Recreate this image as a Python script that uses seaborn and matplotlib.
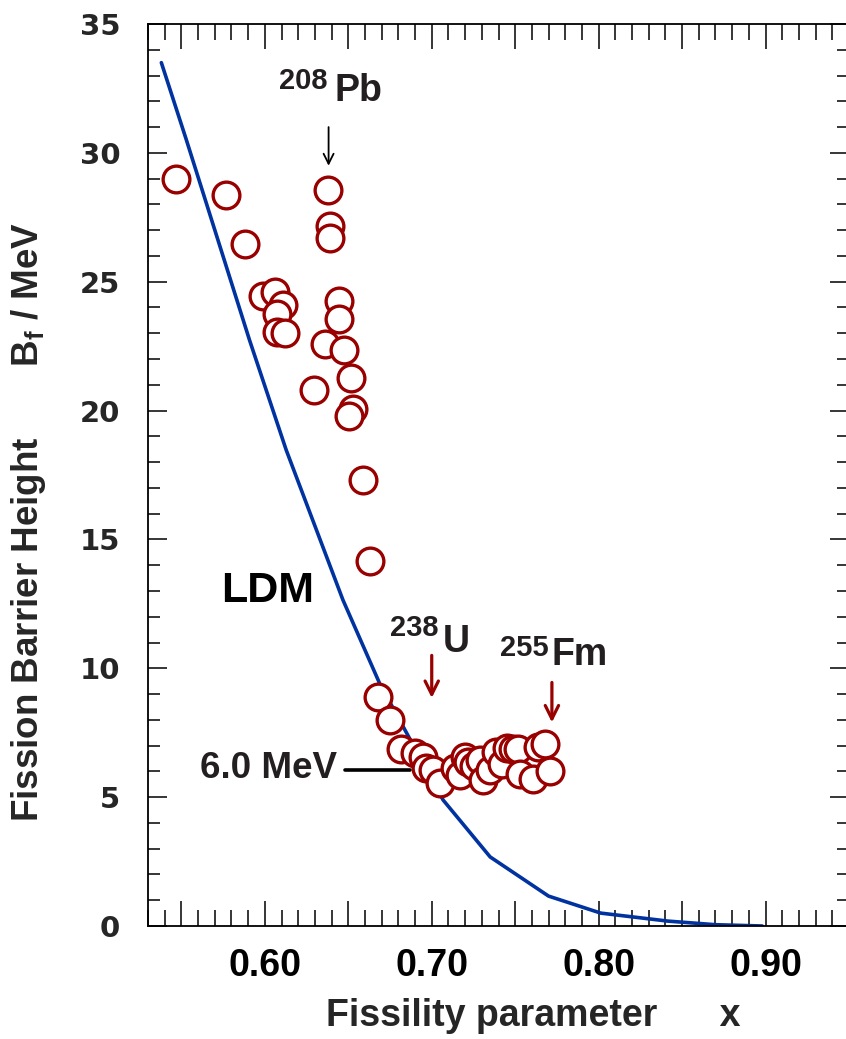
import matplotlib
matplotlib.use("Agg")
import matplotlib.pyplot as plt
import seaborn as sns
import numpy as np
import pandas as pd
from matplotlib.ticker import MultipleLocator, FixedLocator

# ---------------- data ----------------
# measured fission barriers (fissility x, barrier Bf in MeV)
exp_x = [0.547, 0.577, 0.588, 0.599, 0.606, 0.611, 0.607, 0.607, 0.612,
         0.6378, 0.6392, 0.6392, 0.6442, 0.6444, 0.6358, 0.6474, 0.6514,
         0.6292, 0.6528, 0.6502, 0.6588, 0.6632, 0.6676, 0.6752, 0.6818,
         0.6898, 0.6948, 0.6968, 0.7008, 0.7048, 0.7138, 0.7168, 0.7198,
         0.7218, 0.7255, 0.7288, 0.7308, 0.7348, 0.7388, 0.7418, 0.7448,
         0.7485, 0.7518, 0.7528, 0.7608, 0.7638, 0.7678, 0.7708]
exp_bf = [29.0, 28.35, 26.45, 24.45, 24.6, 24.1, 23.75, 23.05, 23.0,
          28.55, 27.15, 26.7, 24.25, 23.55, 22.6, 22.35, 21.25,
          20.8, 20.05, 19.8, 17.3, 14.15, 8.9, 8.0, 6.85,
          6.7, 6.55, 6.15, 6.05, 5.55, 6.15, 5.85, 6.55,
          6.35, 6.2, 6.45, 5.65, 6.05, 6.75, 6.3, 6.9,
          6.85, 6.85, 5.9, 5.7, 6.95, 7.05, 6.0]

# liquid drop model curve
ldm_x = [0.538, 0.553, 0.5908, 0.6128, 0.6468, 0.6688, 0.7068, 0.735,
         0.770, 0.8013, 0.8415, 0.870, 0.898]
ldm_bf = [33.5, 30.5, 22.74, 18.47, 12.65, 9.41, 4.89, 2.68,
          1.16, 0.50, 0.19, 0.05, 0.0]

x_major = [0.55, 0.60, 0.65, 0.70, 0.75, 0.80, 0.85, 0.90, 0.95]
x_labeled = [0.60, 0.70, 0.80, 0.90]
x_labels = ["0.60", "0.70", "0.80", "0.90"]
y_ticks = [0, 5, 10, 15, 20, 25, 30, 35]

# annotations
pb_arrow_x, pb_arrow_y = 0.6382, (31.0, 29.5)
u_arrow_x, u_arrow_y = 0.700, (10.5, 8.85)
fm_arrow_x, fm_arrow_y = 0.772, (9.45, 7.9)
mev_line_x, mev_line_y = (0.648, 0.687), 6.05

RED = "#990000"
BLUE = "#0033a0"
TXT = "#231f20"

sns.set_style("ticks")
plt.rcParams['font.family'] = ['Liberation Sans', 'DejaVu Sans']
plt.rcParams['font.weight'] = 'bold'

fig = plt.figure(figsize=(8.46, 10.39), dpi=100)
ax = fig.add_axes([148/846, (1039-926)/1039, (849-148)/846, (926-24)/1039])

df_ldm = pd.DataFrame({"x": ldm_x, "bf": ldm_bf})
df_exp = pd.DataFrame({"x": exp_x, "bf": exp_bf})

sns.lineplot(data=df_ldm, x="x", y="bf", ax=ax, color=BLUE, lw=2.6,
             sort=False, estimator=None, zorder=2)
sns.scatterplot(data=df_exp, x="x", y="bf", ax=ax, s=370, color="white",
                edgecolor=RED, linewidth=2.4, marker="o", zorder=3)

ax.set_xlim(0.53, 0.95)
ax.set_ylim(0, 35)

ax.xaxis.set_major_locator(FixedLocator(x_major))
ax.xaxis.set_minor_locator(MultipleLocator(0.01))
ax.set_xticks(x_major)
ax.set_xticklabels([x_labels[x_labeled.index(v)] if v in x_labeled else "" for v in x_major])
ax.set_yticks(y_ticks)
ax.yaxis.set_minor_locator(MultipleLocator(1))

ax.tick_params(axis="x", which="major", direction="in", length=18, width=1.3,
               top=True, bottom=True, pad=16, labelsize=27, labelcolor="black")
ax.tick_params(axis="x", which="minor", direction="in", length=11.5, width=1.3,
               top=True, bottom=True)
ax.tick_params(axis="y", which="major", direction="in", length=13.5, width=1.3,
               left=True, right=True, pad=20, labelsize=21)
ax.tick_params(axis="y", which="minor", direction="in", length=8.5, width=1.3,
               left=True, right=True)
for lab in ax.get_yticklabels():
    lab.set_fontfamily('DejaVu Sans')
    lab.set_fontweight('bold')
for lab in ax.get_xticklabels():
    lab.set_fontweight('bold')
for sp in ax.spines.values():
    sp.set_linewidth(1.3)
    sp.set_color("black")

ax.set_xlabel("Fissility parameter      x", fontsize=27, fontweight="bold")
ax.xaxis.set_label_coords((533-148)/701, (926-998)/902)
ax.set_ylabel(r"Fission Barrier Height       $\mathregular{B_f}$ / MeV",
              fontsize=26.5, fontweight="bold")
ax.yaxis.set_label_coords((48-148)/701, (926-522)/902)

# text annotations
ax.text(0.623, 32.8, "208", fontsize=21, fontweight="bold", color=TXT,
        ha="center", va="center")
ax.text(0.656, 32.4, "Pb", fontsize=27, fontweight="bold", color=TXT,
        ha="center", va="center")
ax.text(0.6898, 11.56, "238", fontsize=21, fontweight="bold", color=TXT,
        ha="center", va="center")
ax.text(0.7144, 11.02, "U", fontsize=27, fontweight="bold", color=TXT,
        ha="center", va="center")
ax.text(0.7552, 10.79, "255", fontsize=21, fontweight="bold", color=TXT,
        ha="center", va="center")
ax.text(0.7888, 10.52, "Fm", fontsize=27, fontweight="bold", color=TXT,
        ha="center", va="center")
ax.text(0.6016, 13.0, "LDM", fontsize=31, fontweight="bold", color="black",
        ha="center", va="center")
ax.text(0.6022, 6.13, "6.0 MeV", fontsize=26.5, fontweight="bold", color=TXT,
        ha="center", va="center")

ax.annotate("", xy=(pb_arrow_x, pb_arrow_y[1]), xytext=(pb_arrow_x, pb_arrow_y[0]),
            arrowprops=dict(arrowstyle="->", color="black", lw=1.3,
                            mutation_scale=18, shrinkA=0, shrinkB=0))
ax.annotate("", xy=(u_arrow_x, u_arrow_y[1]), xytext=(u_arrow_x, u_arrow_y[0]),
            arrowprops=dict(arrowstyle="->", color=RED, lw=2.3,
                            mutation_scale=24, shrinkA=0, shrinkB=0))
ax.annotate("", xy=(fm_arrow_x, fm_arrow_y[1]), xytext=(fm_arrow_x, fm_arrow_y[0]),
            arrowprops=dict(arrowstyle="->", color=RED, lw=2.3,
                            mutation_scale=24, shrinkA=0, shrinkB=0))
ax.plot(list(mev_line_x), [mev_line_y, mev_line_y], color="black", lw=2.6, zorder=1)

fig.savefig("out.png", dpi=100)
